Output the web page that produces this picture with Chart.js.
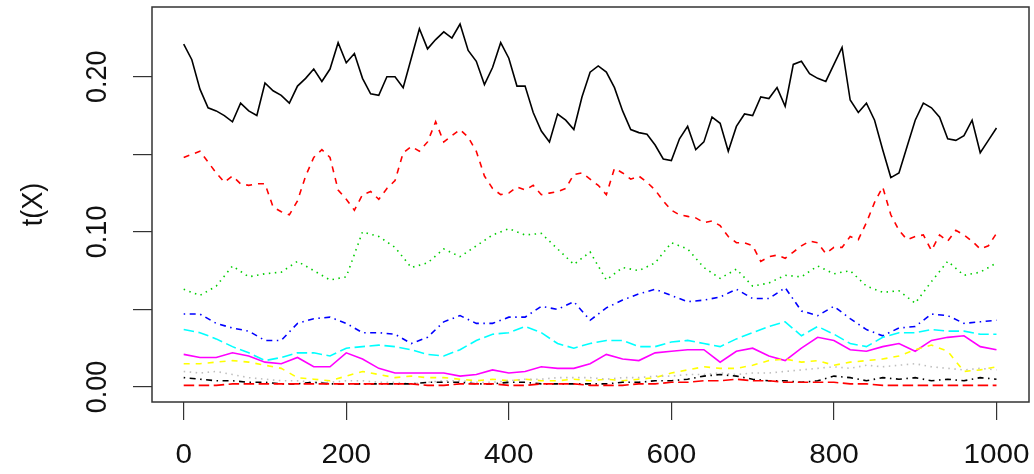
<!DOCTYPE html>
<html>
<head>
<meta charset="utf-8">
<script src="https://cdn.jsdelivr.net/npm/chart.js@4"></script>
<style>
  html, body { margin: 0; padding: 0; background: #fff; }
</style>
</head>
<body>
<canvas id="chart" width="1034" height="474"></canvas>
<script>
// x positions: first two series read every 10 steps, the rest every 20
const x10 = Array.from({ length: 101 }, (_, i) => i * 10);
const x20 = Array.from({ length: 51 }, (_, i) => i * 20);

const xTicks = [0, 200, 400, 600, 800, 1000];
const yTicks = [0, 0.05, 0.10, 0.15, 0.20];
const yLabels = ['0.00', '', '0.10', '', '0.20'];

const s1 = [
  0.221, 0.211, 0.192, 0.180, 0.178, 0.175, 0.171, 0.183, 0.178, 0.175,
  0.196, 0.191, 0.188, 0.183, 0.194, 0.199, 0.205, 0.197, 0.205, 0.222,
  0.209, 0.215, 0.199, 0.189, 0.188, 0.200, 0.200, 0.193, 0.212, 0.231,
  0.218, 0.224, 0.229, 0.225, 0.234, 0.217, 0.210, 0.195, 0.206, 0.222,
  0.212, 0.194, 0.194, 0.177, 0.165, 0.158, 0.176, 0.172, 0.166, 0.187,
  0.203, 0.207, 0.203, 0.193, 0.178, 0.166, 0.164, 0.163, 0.156, 0.147,
  0.146, 0.160, 0.168, 0.153, 0.158, 0.174, 0.170, 0.152, 0.168, 0.176,
  0.175, 0.187, 0.186, 0.193, 0.181, 0.208, 0.210, 0.202, 0.199, 0.197,
  0.208, 0.219, 0.185, 0.177, 0.183, 0.172, 0.153, 0.135, 0.138, 0.155,
  0.172, 0.183, 0.180, 0.174, 0.160, 0.159, 0.162, 0.172, 0.151, 0.159,
  0.167
];
const s2 = [
  0.148, 0.150, 0.152, 0.145, 0.138, 0.132, 0.136, 0.131, 0.130, 0.131,
  0.131, 0.116, 0.113, 0.111, 0.120, 0.136, 0.148, 0.153, 0.148, 0.127,
  0.121, 0.114, 0.124, 0.126, 0.121, 0.128, 0.133, 0.151, 0.155, 0.152,
  0.158, 0.171, 0.158, 0.162, 0.166, 0.161, 0.152, 0.136, 0.128, 0.124,
  0.125, 0.129, 0.127, 0.130, 0.124, 0.125, 0.126, 0.128, 0.137, 0.138,
  0.134, 0.130, 0.124, 0.141, 0.138, 0.134, 0.136, 0.132, 0.127, 0.120,
  0.114, 0.111, 0.110, 0.109, 0.106, 0.107, 0.104, 0.097, 0.093, 0.093,
  0.091, 0.081, 0.084, 0.085, 0.083, 0.087, 0.091, 0.094, 0.093, 0.086,
  0.090, 0.090, 0.097, 0.095, 0.106, 0.119, 0.129, 0.111, 0.101, 0.095,
  0.097, 0.098, 0.088, 0.098, 0.094, 0.101, 0.098, 0.094, 0.089, 0.091,
  0.099
];
const s3 = [
  0.063, 0.059, 0.065, 0.078, 0.071, 0.073, 0.074, 0.081, 0.075, 0.069,
  0.071, 0.100, 0.097, 0.090, 0.077, 0.080, 0.089, 0.084, 0.091, 0.098,
  0.102, 0.098, 0.099, 0.089, 0.079, 0.087, 0.069, 0.077, 0.075, 0.080,
  0.093, 0.089, 0.077, 0.070, 0.076, 0.065, 0.067, 0.072, 0.071, 0.078,
  0.073, 0.075, 0.065, 0.061, 0.062, 0.054, 0.068, 0.081, 0.072, 0.074,
  0.080
];
const s4 = [
  0.047, 0.047, 0.041, 0.038, 0.036, 0.030, 0.030, 0.041, 0.044, 0.045,
  0.041, 0.035, 0.035, 0.034, 0.028, 0.032, 0.042, 0.046, 0.041, 0.041,
  0.045, 0.045, 0.052, 0.050, 0.055, 0.043, 0.051, 0.056, 0.060, 0.063,
  0.059, 0.055, 0.056, 0.058, 0.063, 0.057, 0.057, 0.064, 0.049, 0.046,
  0.052, 0.044, 0.037, 0.033, 0.038, 0.039, 0.047, 0.046, 0.041, 0.042,
  0.043
];
const s5 = [
  0.037, 0.035, 0.031, 0.026, 0.022, 0.017, 0.019, 0.022, 0.022, 0.020,
  0.025, 0.026, 0.027, 0.026, 0.024, 0.021, 0.020, 0.024, 0.030, 0.034,
  0.035, 0.039, 0.035, 0.028, 0.025, 0.028, 0.030, 0.030, 0.026, 0.026,
  0.029, 0.030, 0.028, 0.026, 0.031, 0.035, 0.039, 0.042, 0.033, 0.039,
  0.034, 0.028, 0.026, 0.032, 0.035, 0.035, 0.037, 0.036, 0.036, 0.034,
  0.034
];
const s6 = [
  0.021, 0.019, 0.019, 0.022, 0.020, 0.016, 0.015, 0.019, 0.013, 0.013,
  0.022, 0.018, 0.012, 0.009, 0.009, 0.009, 0.009, 0.007, 0.008, 0.011,
  0.009, 0.010, 0.013, 0.012, 0.012, 0.015, 0.021, 0.018, 0.017, 0.022,
  0.023, 0.024, 0.024, 0.016, 0.023, 0.025, 0.020, 0.017, 0.025, 0.032,
  0.030, 0.024, 0.023, 0.026, 0.028, 0.023, 0.030, 0.032, 0.033, 0.026,
  0.024
];
const s7 = [
  0.015, 0.015, 0.016, 0.017, 0.016, 0.014, 0.012, 0.006, 0.005, 0.004,
  0.007, 0.010, 0.008, 0.006, 0.007, 0.006, 0.006, 0.005, 0.004, 0.005,
  0.004, 0.005, 0.004, 0.004, 0.005, 0.004, 0.005, 0.004, 0.005, 0.006,
  0.009, 0.011, 0.013, 0.012, 0.012, 0.014, 0.017, 0.018, 0.016, 0.017,
  0.014, 0.016, 0.017, 0.018, 0.020, 0.024, 0.027, 0.023, 0.010, 0.011,
  0.013
];
const s8 = [
  0.010, 0.009, 0.010, 0.008, 0.006, 0.005, 0.004, 0.004, 0.003, 0.003,
  0.004, 0.004, 0.003, 0.003, 0.002, 0.003, 0.004, 0.004, 0.003, 0.003,
  0.004, 0.005, 0.005, 0.006, 0.006, 0.006, 0.005, 0.006, 0.006, 0.007,
  0.007, 0.008, 0.008, 0.009, 0.008, 0.009, 0.009, 0.010, 0.011, 0.012,
  0.013, 0.012, 0.014, 0.013, 0.014, 0.015, 0.013, 0.012, 0.011, 0.012,
  0.011
];
const s9 = [
  0.006, 0.005, 0.004, 0.004, 0.003, 0.003, 0.002, 0.002, 0.003, 0.002,
  0.002, 0.002, 0.002, 0.002, 0.002, 0.003, 0.003, 0.003, 0.002, 0.002,
  0.003, 0.003, 0.002, 0.002, 0.002, 0.002, 0.002, 0.003, 0.003, 0.004,
  0.004, 0.005, 0.007, 0.008, 0.007, 0.005, 0.004, 0.004, 0.003, 0.004,
  0.007, 0.006, 0.004, 0.006, 0.005, 0.006, 0.004, 0.005, 0.004, 0.006,
  0.005
];
const s10 = [
  0.001, 0.001, 0.001, 0.002, 0.002, 0.002, 0.002, 0.002, 0.002, 0.002,
  0.002, 0.002, 0.002, 0.002, 0.002, 0.001, 0.001, 0.002, 0.002, 0.002,
  0.001, 0.001, 0.002, 0.002, 0.002, 0.001, 0.001, 0.001, 0.002, 0.002,
  0.003, 0.003, 0.004, 0.004, 0.005, 0.004, 0.004, 0.003, 0.003, 0.003,
  0.003, 0.002, 0.002, 0.001, 0.001, 0.001, 0.001, 0.001, 0.001, 0.001,
  0.001
];

// R matplot defaults: col 1..n, lty 1..5 cycling
const dashed = [6, 6], dotted = [1.5, 4.5], dotdash = [1.5, 4.5, 6, 4.5], longdash = [10.5, 4.5];
const series = [
  { xs: x10, ys: s1, color: '#000000', dash: [] },
  { xs: x10, ys: s2, color: '#FF0000', dash: dashed },
  { xs: x20, ys: s3, color: '#00CD00', dash: dotted },
  { xs: x20, ys: s4, color: '#0000FF', dash: dotdash },
  { xs: x20, ys: s5, color: '#00FFFF', dash: longdash },
  { xs: x20, ys: s6, color: '#FF00FF', dash: [] },
  { xs: x20, ys: s7, color: '#FFFF00', dash: dashed },
  { xs: x20, ys: s8, color: '#BEBEBE', dash: dotted },
  { xs: x20, ys: s9, color: '#000000', dash: dotdash },
  { xs: x20, ys: s10, color: '#FF0000', dash: longdash }
];

const font = 'Liberation Sans, Arial, sans-serif';
const stretch = 1.1; // the reference text is a bit wider than tall

function label(ctx, text, x, y, rotate) {
  ctx.save();
  ctx.translate(x, y);
  ctx.scale(stretch, 1);
  if (rotate) ctx.rotate(-Math.PI / 2);
  ctx.fillText(text, 0, 0);
  ctx.restore();
}

// plot frame, tick labels and the y title, R style
const rFrame = {
  id: 'rFrame',
  afterDraw(chart) {
    const { ctx, chartArea: a, scales } = chart;
    ctx.save();
    ctx.strokeStyle = '#333';
    ctx.lineWidth = 1.5;
    ctx.setLineDash([]);
    ctx.strokeRect(a.left, a.top, a.right - a.left, a.bottom - a.top);
    ctx.fillStyle = '#111';
    ctx.font = '27px ' + font;
    ctx.textAlign = 'center';
    ctx.textBaseline = 'middle';
    xTicks.forEach(v => label(ctx, String(v), scales.x.getPixelForValue(v), 456, false));
    yTicks.forEach((v, i) => {
      if (yLabels[i]) label(ctx, yLabels[i], 98, scales.y.getPixelForValue(v), true);
    });
    label(ctx, 't(X)', 34, (a.top + a.bottom) / 2, true);
    ctx.restore();
  }
};

new Chart(document.getElementById('chart'), {
  type: 'line',
  data: {
    datasets: series.map((s, i) => ({
      data: s.xs.map((x, j) => ({ x: x, y: s.ys[j] })),
      borderColor: s.color,
      borderDash: s.dash,
      borderWidth: 1.6,
      pointRadius: 0,
      fill: false,
      tension: 0,
      order: series.length - i
    }))
  },
  options: {
    responsive: false,
    animation: false,
    layout: { padding: { top: 7, right: 5, left: 0, bottom: 0 } },
    plugins: { legend: { display: false }, tooltip: { enabled: false } },
    scales: {
      x: {
        type: 'linear',
        min: -39,
        max: 1040,
        afterBuildTicks: s => { s.ticks = xTicks.map(v => ({ value: v })); },
        afterFit: s => { s.height = 72; },
        border: { display: false },
        grid: { drawOnChartArea: false, drawTicks: true, tickLength: 18, color: '#333', lineWidth: 1.2 },
        ticks: { display: false }
      },
      y: {
        type: 'linear',
        min: -0.0097,
        max: 0.245,
        afterBuildTicks: s => { s.ticks = yTicks.map(v => ({ value: v })); },
        afterFit: s => { s.width = 152; },
        border: { display: false },
        grid: { drawOnChartArea: false, drawTicks: true, tickLength: 19, color: '#333', lineWidth: 1.2 },
        ticks: { display: false }
      }
    }
  },
  plugins: [rFrame]
});
</script>
</body>
</html>
